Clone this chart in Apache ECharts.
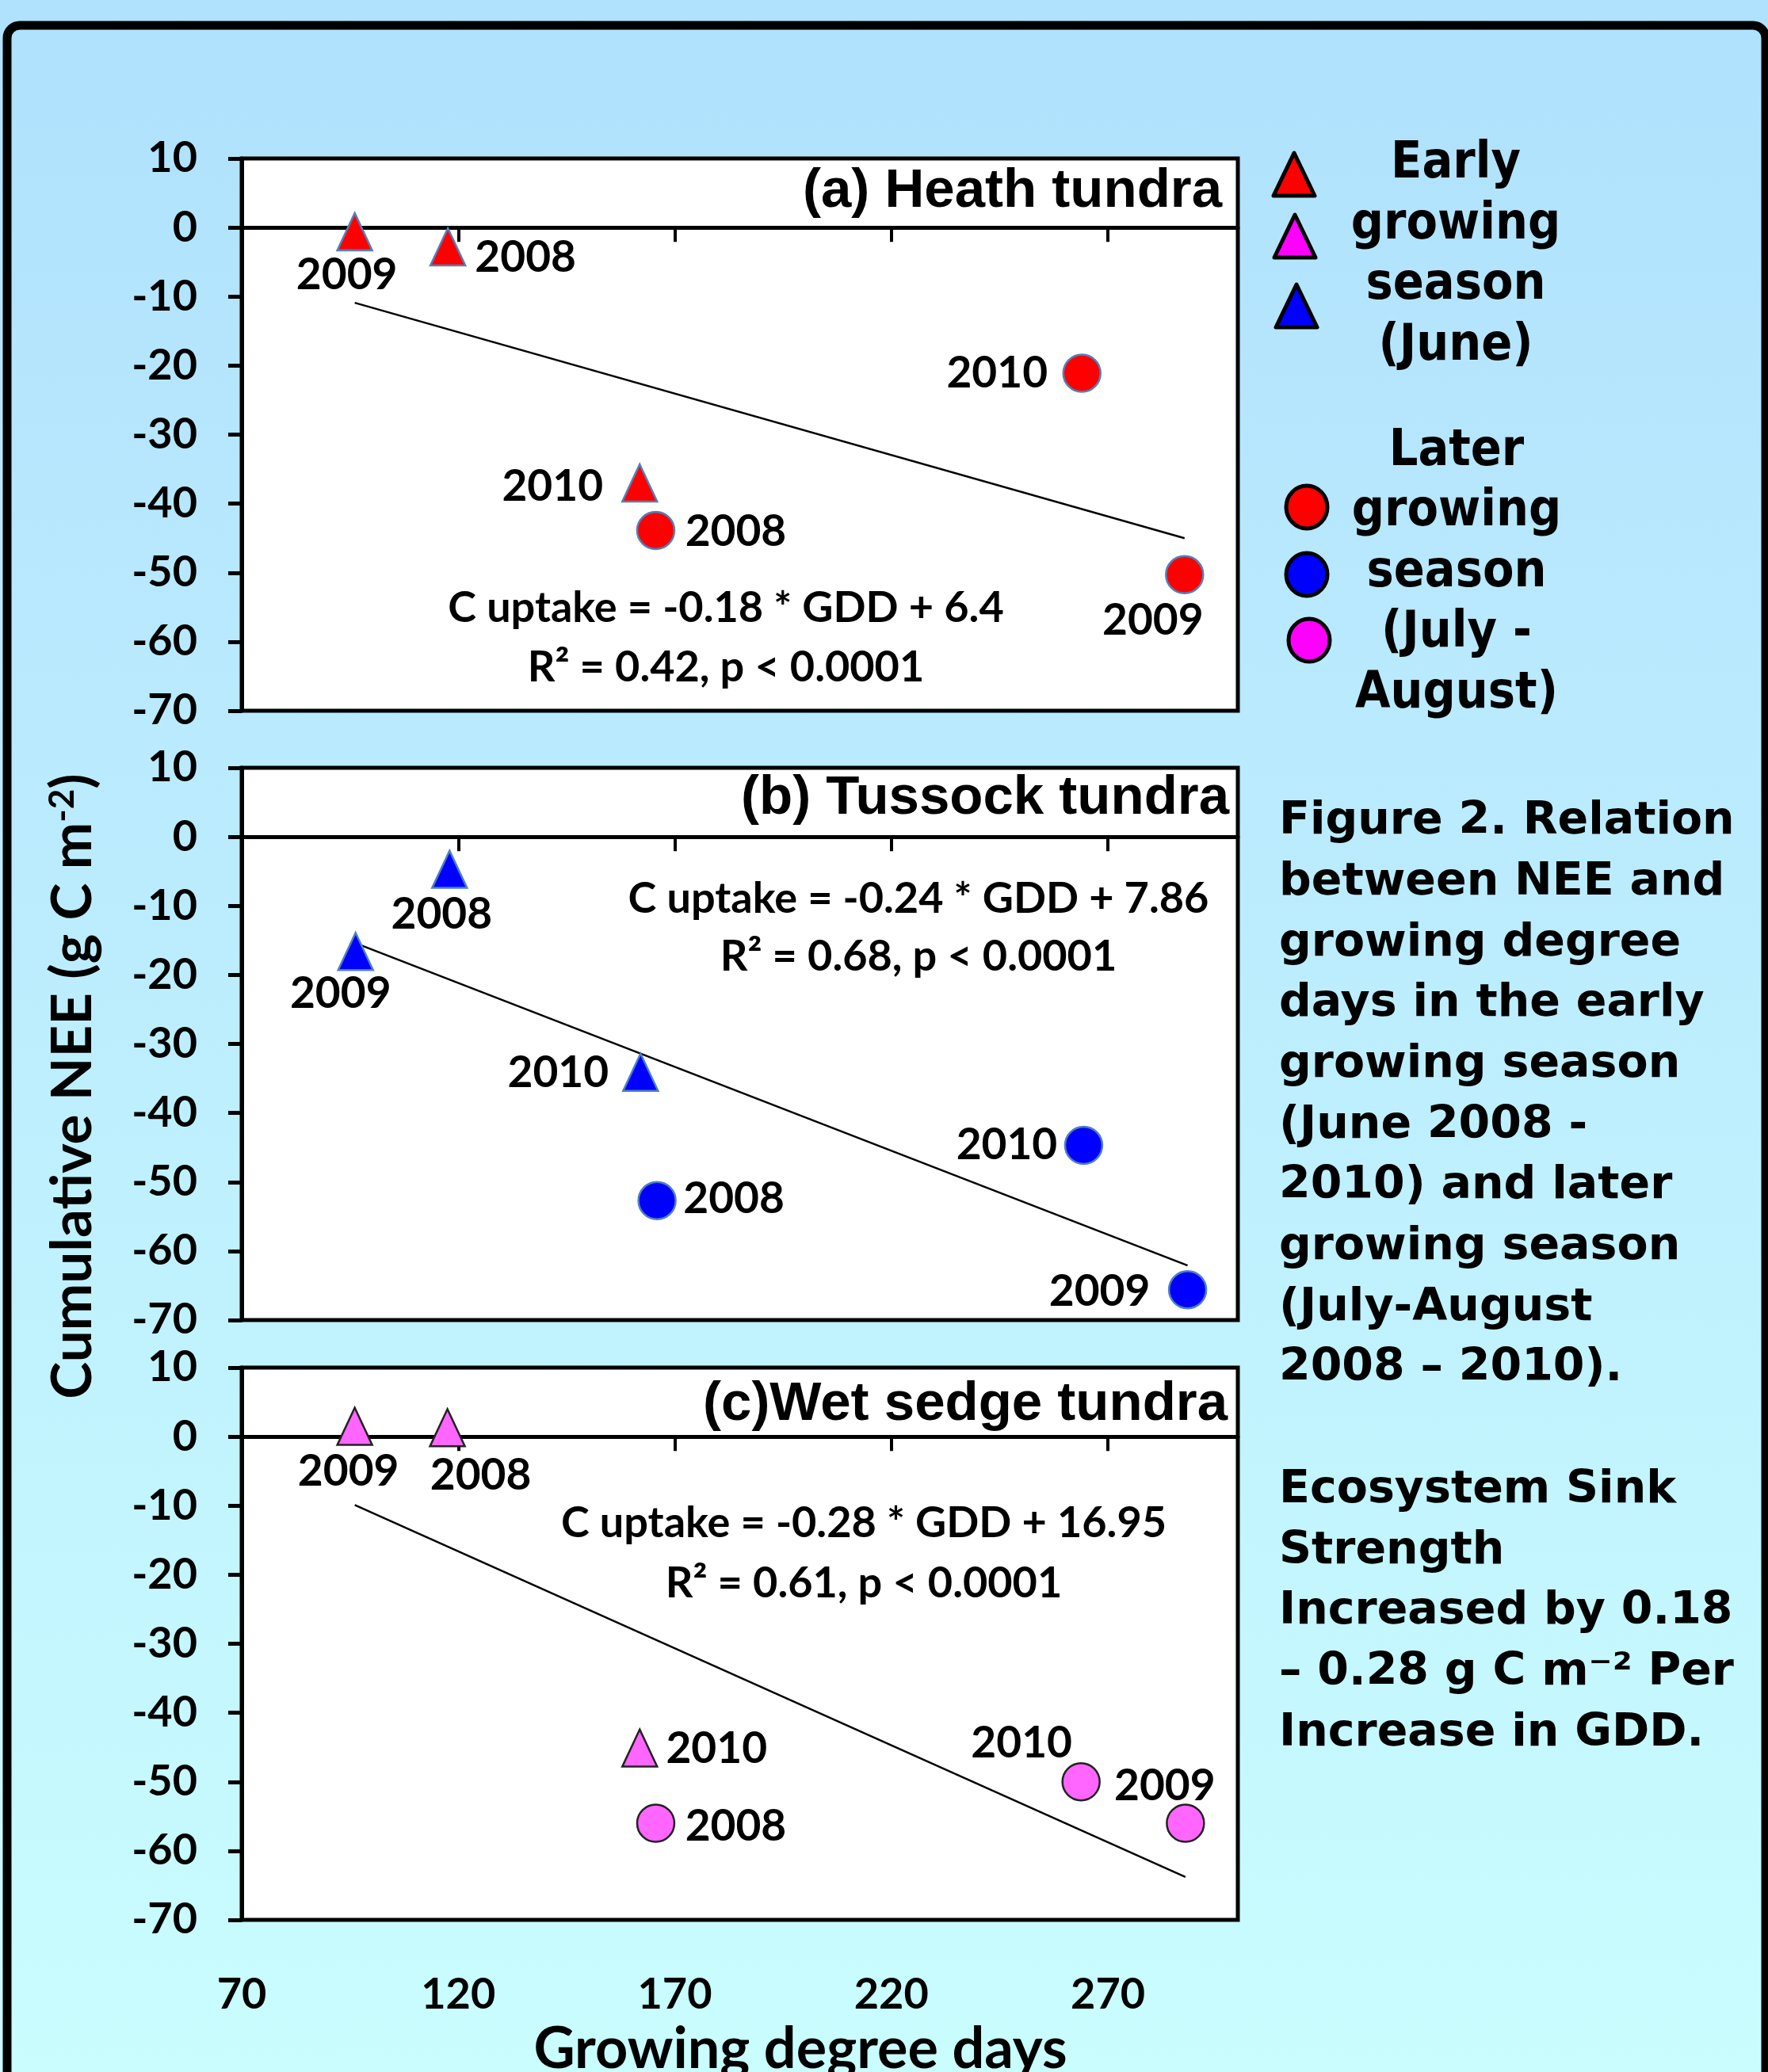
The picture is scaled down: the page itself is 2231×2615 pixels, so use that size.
<!DOCTYPE html>
<html>
<head>
<meta charset="utf-8">
<title>NEE vs growing degree days</title>
<script src="https://cdn.jsdelivr.net/npm/echarts@6/dist/echarts.min.js"></script>
<style>
html, body { margin: 0; padding: 0; }
#main { width: 2231px; height: 2615px; background: linear-gradient(to bottom, #b0e1fd 0%, #bdeefe 50%, #c9fdfe 100%); }
</style>
</head>
<body>
<div id="main"></div>
<script>
// values (GDD on x, cumulative NEE on y), order 2008, 2009, 2010
var years = ['2008', '2009', '2010'];

var heathEarlyGdd = [117.6, 96.1, 161.9];
var heathEarlyNee = [-2.8, -0.6, -37.0];
var heathLateGdd = [165.6, 287.7, 264.0];
var heathLateNee = [-43.9, -50.3, -21.1];
var heathFitGdd = [96.1, 287.7];
var heathFitNee = [-10.9, -45.0];

var tussEarlyGdd = [118.0, 96.3, 162.1];
var tussEarlyNee = [-4.7, -16.6, -34.1];
var tussLateGdd = [165.9, 288.4, 264.4];
var tussLateNee = [-52.7, -65.6, -44.7];
var tussFitGdd = [96.3, 288.4];
var tussFitNee = [-15.4, -62.1];

var wetEarlyGdd = [117.5, 96.1, 161.9];
var wetEarlyNee = [1.3, 1.5, -45.1];
var wetLateGdd = [165.6, 287.9, 263.8];
var wetLateNee = [-56.0, -56.0, -50.0];
var wetFitGdd = [96.1, 287.9];
var wetFitNee = [-9.9, -63.8];

var gddTicks = [70, 120, 170, 220, 270];

var panelTitles = ['(a) Heath tundra', '(b) Tussock tundra', '(c)Wet sedge tundra'];
var equations = [
    ['C uptake = -0.18 * GDD + 6.4', 'R\u00b2 = 0.42, p < 0.0001'],
    ['C uptake = -0.24 * GDD + 7.86', 'R\u00b2 = 0.68, p < 0.0001'],
    ['C uptake = -0.28 * GDD + 16.95', 'R\u00b2 = 0.61, p < 0.0001']
];
var caption = [
    'Figure 2. Relation', 'between NEE and', 'growing degree', 'days in the early',
    'growing season', '(June 2008 -', '2010) and later', 'growing season',
    '(July-August', '2008 \u2013 2010).', '',
    'Ecosystem Sink', 'Strength', 'Increased by 0.18',
    '\u2013 0.28 g C m\u207b\u00b2 Per', 'Increase in GDD.'
];

// label placement around each marker (pixels), same order as years
var heathEarlyOff = [[98, 14], [-10, 55], [-110, 5]];
var heathLateOff = [[101, 2], [-40, 58], [-107, 0]];
var tussEarlyOff = [[-10, 57], [-19, 54], [-104, 1]];
var tussLateOff = [[97, -2], [-111, 3], [-97, 0]];
var wetEarlyOff = [[42, 60], [-8, 57], [97, 1]];
var wetLateOff = [[101, 4], [-26, -47], [-75, -48]];

var calibri = "Lato, 'Open Sans', sans-serif";
var tahomaC = "'DejaVu Sans Condensed', 'DejaVu Sans', sans-serif";
var tahoma = "'DejaVu Sans', sans-serif";
var arial = "'Liberation Sans', Arial, sans-serif";

var gridTops = [200, 969, 1726];
var gridLeft = 305, gridW = 1257, gridH = 697;

function pts(gdd, nee, offs) {
    var out = [];
    for (var k = 0; k < gdd.length; k++) {
        out.push({ name: years[k], value: [gdd[k], nee[k]], label: { offset: offs[k] } });
    }
    return out;
}

function fitLine(gdd, nee) {
    var out = [];
    for (var k = 0; k < gdd.length; k++) out.push([gdd[k], nee[k]]);
    return out;
}

var labelStyle = {
    show: true, position: 'inside', formatter: '{b}', color: '#000', opacity: 1,
    fontFamily: calibri, fontWeight: 'bold', fontSize: 55, textBorderWidth: 0
};

function markers(i, symbol, size, fill, edge, data) {
    return {
        type: 'scatter', xAxisIndex: i, yAxisIndex: i, symbol: symbol, symbolSize: size,
        itemStyle: { color: fill, borderColor: edge, borderWidth: 2.5, opacity: 1 },
        label: labelStyle, emphasis: { disabled: true }, z: 3, data: data
    };
}

function line(i, data) {
    return {
        type: 'line', xAxisIndex: i, yAxisIndex: i, data: data, symbol: 'none', showSymbol: false,
        lineStyle: { color: '#000', width: 2.5 }, silent: true, z: 2
    };
}

var grids = [], xAxes = [], yAxes = [];
for (var i = 0; i < 3; i++) {
    grids.push({
        left: gridLeft, top: gridTops[i], width: gridW, height: gridH, show: true,
        backgroundColor: '#fff', borderColor: '#000', borderWidth: 5
    });
    xAxes.push({
        gridIndex: i, type: 'value', min: 70, max: 300,
        axisLine: { onZero: true, lineStyle: { color: '#000', width: 5 } },
        axisTick: { show: true, inside: false, length: 18, customValues: gddTicks, lineStyle: { color: '#000', width: 4 } },
        axisLabel: { show: false },
        splitLine: { show: false }
    });
    yAxes.push({
        gridIndex: i, type: 'value', min: -70, max: 10, interval: 10,
        axisLine: { show: true, onZero: false, lineStyle: { color: '#000', width: 5 } },
        axisTick: { show: true, inside: false, length: 17, lineStyle: { color: '#000', width: 5 } },
        axisLabel: { color: '#000', fontFamily: calibri, fontWeight: 'bold', fontSize: 54, margin: 56 },
        splitLine: { show: false }
    });
}
// tick labels under the bottom panel only
xAxes.push({
    gridIndex: 2, type: 'value', min: 70, max: 300, position: 'bottom',
    axisLine: { show: false, onZero: false }, axisTick: { show: false },
    axisLabel: { show: true, customValues: gddTicks, margin: 68, color: '#000', fontFamily: calibri, fontWeight: 'bold', fontSize: 54 },
    splitLine: { show: false }
});

var series = [
    line(0, fitLine(heathFitGdd, heathFitNee)),
    markers(0, 'triangle', [44, 47], '#ff0000', '#4f81bd', pts(heathEarlyGdd, heathEarlyNee, heathEarlyOff)),
    markers(0, 'circle', 47, '#ff0000', '#4f81bd', pts(heathLateGdd, heathLateNee, heathLateOff)),
    line(1, fitLine(tussFitGdd, tussFitNee)),
    markers(1, 'triangle', [44, 47], '#0000ff', '#4f81bd', pts(tussEarlyGdd, tussEarlyNee, tussEarlyOff)),
    markers(1, 'circle', 47, '#0000ff', '#4f81bd', pts(tussLateGdd, tussLateNee, tussLateOff)),
    line(2, fitLine(wetFitGdd, wetFitNee)),
    markers(2, 'triangle', [44, 47], '#ff66ff', '#222', pts(wetEarlyGdd, wetEarlyNee, wetEarlyOff)),
    markers(2, 'circle', 47, '#ff66ff', '#222', pts(wetLateGdd, wetLateNee, wetLateOff))
];

function txt(x, y, s, size, family, align, valign, extra) {
    var st = {
        text: s, fill: '#000', fontSize: size, fontWeight: 'bold', fontFamily: family,
        align: align, verticalAlign: valign, textAlign: align, textVerticalAlign: valign
    };
    if (extra) for (var k in extra) st[k] = extra[k];
    return { type: 'text', x: x, y: y, z: 100, silent: true, style: st };
}

var titleX = [1542, 1551, 1549];
var titleY = [241.5, 1008, 1773];
var eqPos = [[916, 768, 843], [1159, 1135, 1208], [1090, 1923, 1999]];

var graphics = [
    { type: 'rect', z: 100, silent: true, shape: { x: 9, y: 32, width: 2219, height: 2700, r: 16 },
      style: { fill: 'none', stroke: '#000', lineWidth: 11 } }
];
for (var p = 0; p < 3; p++) {
    graphics.push(txt(titleX[p], titleY[p], panelTitles[p], 69, arial, 'right', 'middle'));
    graphics.push(txt(eqPos[p][0], eqPos[p][1], equations[p][0], 54, calibri, 'center', 'middle'));
    graphics.push(txt(eqPos[p][0], eqPos[p][2], equations[p][1], 54, calibri, 'center', 'middle'));
}

// axis titles
graphics.push(txt(1010, 2587, 'Growing degree days', 72, calibri, 'center', 'middle'));
var yTitle = txt(0, 0, 'Cumulative NEE (g C m{sup|-2})', 71, calibri, 'center', 'middle',
    { rich: { sup: { fontSize: 44, fontWeight: 'bold', fontFamily: calibri, verticalAlign: 'top', fill: '#000' } } });
yTitle.x = 92; yTitle.y = 1371; yTitle.rotation = Math.PI / 2;
graphics.push(yTitle);

// legend symbols
var triFill = ['#ff0000', '#ff00ff', '#0000ff'];
var triPos = [[1633, 220], [1634, 298], [1636, 386]];
for (var t = 0; t < 3; t++) {
    var cx = triPos[t][0], cy = triPos[t][1];
    graphics.push({ type: 'polygon', z: 100, silent: true,
        shape: { points: [[cx - 26, cy + 27], [cx, cy - 27], [cx + 26, cy + 27]] },
        style: { fill: triFill[t], stroke: '#000', lineWidth: 5, lineJoin: 'round' } });
}
var dotFill = ['#ff0000', '#0000ff', '#ff00ff'];
var dotPos = [[1649, 640], [1649, 725], [1652, 808]];
for (var d = 0; d < 3; d++) {
    graphics.push({ type: 'ellipse', z: 100, silent: true,
        shape: { cx: dotPos[d][0], cy: dotPos[d][1], rx: 26, ry: 27 },
        style: { fill: dotFill[d], stroke: '#000', lineWidth: 5 } });
}
graphics.push(txt(1837, 169, 'Early\ngrowing\nseason\n(June)', 64, tahomaC, 'center', 'top', { lineHeight: 76.6 }));
graphics.push(txt(1838, 532, 'Later\ngrowing\nseason\n(July -\nAugust)', 64, tahomaC, 'center', 'top', { lineHeight: 76.5 }));

// caption
graphics.push(txt(1614, 999, caption.join('\n'), 57, tahoma, 'left', 'top', { lineHeight: 76.7 }));

var chart = echarts.init(document.getElementById('main'), null, { renderer: 'canvas' });
chart.setOption({
    animation: false,
    backgroundColor: 'transparent',
    grid: grids,
    xAxis: xAxes,
    yAxis: yAxes,
    series: series,
    graphic: { elements: graphics }
});
</script>
</body>
</html>
